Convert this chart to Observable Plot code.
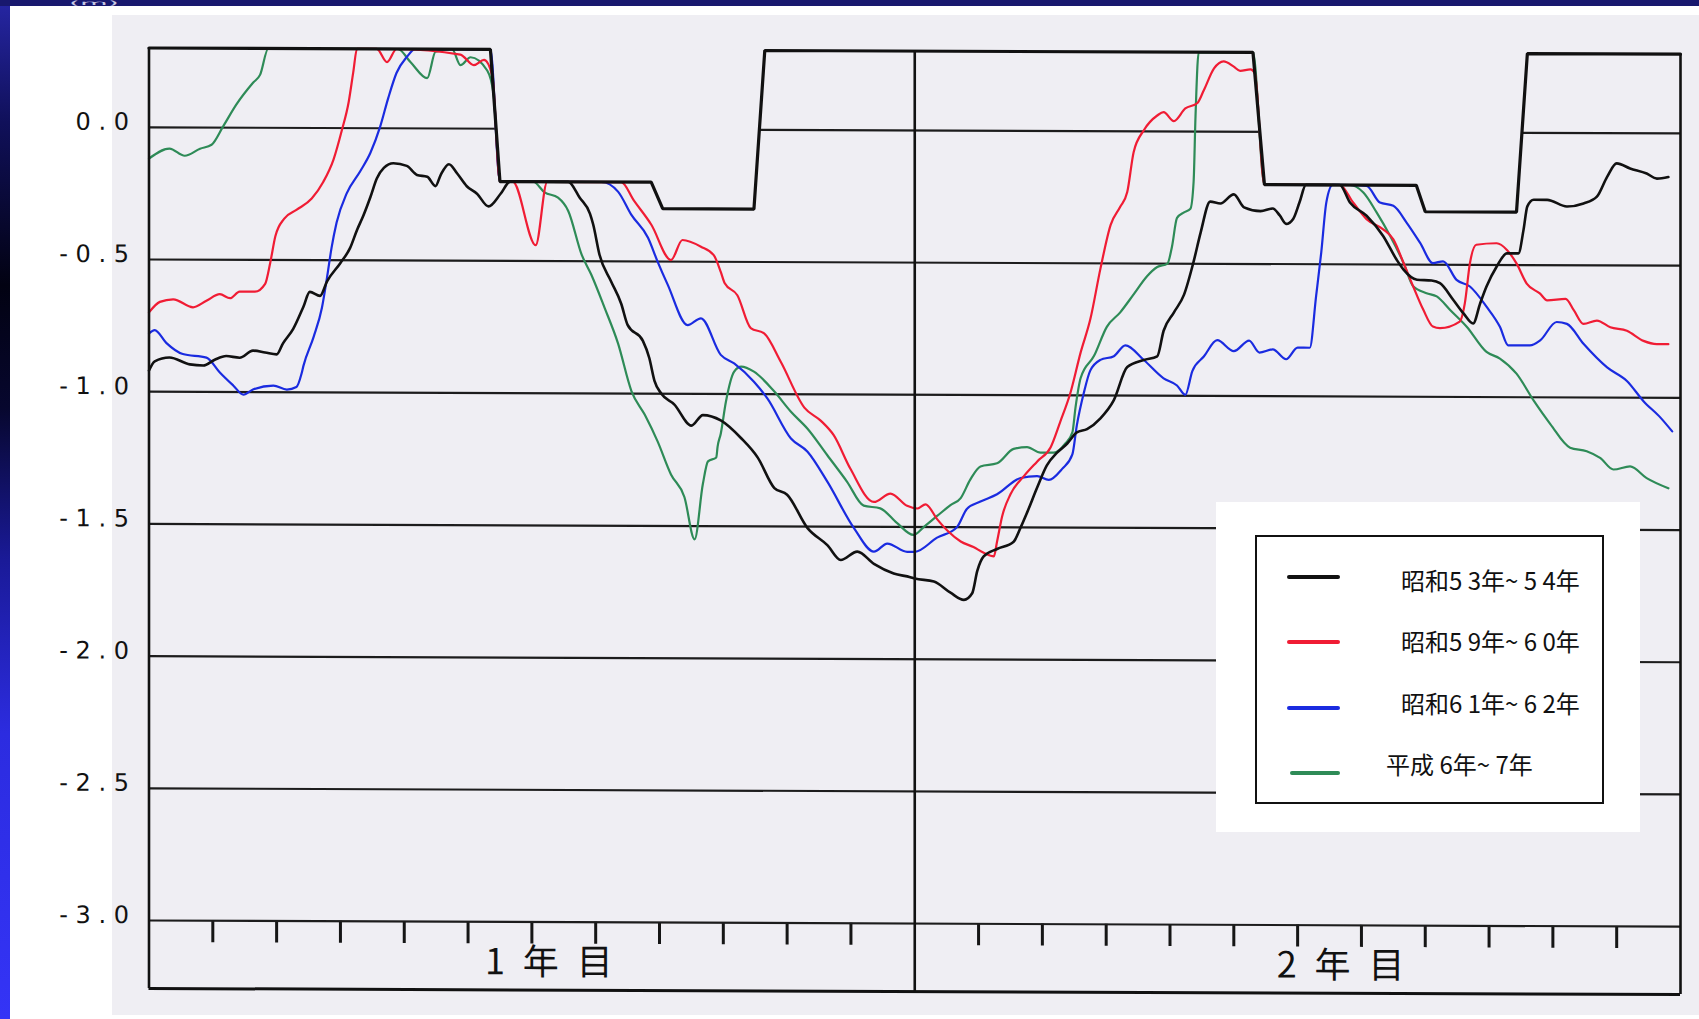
<!DOCTYPE html>
<html>
<head>
<meta charset="utf-8">
<script src="https://cdn.jsdelivr.net/npm/d3@7"></script>
<script src="https://cdn.jsdelivr.net/npm/@observablehq/plot@0.6"></script>
<style>
  html, body { margin: 0; padding: 0; background: #fff; width: 1699px; height: 1019px; overflow: hidden; }
  #stage { position: relative; width: 1699px; height: 1019px; background: #fff; overflow: hidden; }
  #leftbar { position: absolute; left: 0; top: 0; width: 10px; height: 1019px;
    background: linear-gradient(to bottom, #2626a4 0%, #10105a 12%, #020212 28%, #07072e 40%, #1a1a98 55%, #2c2ce0 72%, #3434f6 100%); }
  #topbar { position: absolute; left: 0; top: 0; width: 1699px; height: 6px; background: #18186e; }
  #paper { position: absolute; left: 112px; top: 15px; width: 1587px; height: 1000px; background: #efeef3; }
  #chart { position: absolute; left: 0; top: 0; }
  #chart svg { transform: skewY(0.23deg); transform-origin: 148px 0; }
  #chart svg g[aria-label^="x-axis"] line,
  #chart svg g[aria-label="x-axis tick"] path { stroke-width: 3px; stroke: #151515; }
  #unit { position: absolute; left: 0; top: 0; }
  #legendBg { position: absolute; left: 1216px; top: 502px; width: 424px; height: 330px; background: #fff; }
  #legendBox { position: absolute; left: 1255px; top: 535px; width: 349px; height: 269px; border: 2px solid #111; box-sizing: border-box; }
  .sw { position: absolute; height: 4px; border-radius: 2px; }
  .lt { position: absolute; font-family: "Noto Sans CJK JP", "Noto Sans", sans-serif; font-size: 24px; color: #111; line-height: 30px; white-space: pre; }
</style>
</head>
<body>
<div id="stage">
  <div id="paper"></div>
  <div id="chart"></div>
  <div id="leftbar"></div>
  <div id="topbar"></div>
  <svg id="unit" width="200" height="8"><text x="69" y="5" fill="#c8c8e4" font-family="DejaVu Sans" font-size="6" textLength="50" lengthAdjust="spacingAndGlyphs">(m)</text></svg>
  <div id="legendBg"></div>
  <div id="legendBox"></div>
</div>
<script>
// ---- data: [month (0-24), water level m] ----
const seriesNames = ["昭和5 3年~ 5 4年", "昭和5 9年~ 6 0年", "昭和6 1年~ 6 2年", "平成 6年~ 7年"];
const seriesColors = ["#111111", "#f01c34", "#1a2be0", "#2e8b57"];

const s5354 = [[0,-0.92],[0.09,-0.885],[0.32,-0.87],[0.64,-0.896],[0.85,-0.9],[1.03,-0.878],[1.21,-0.864],[1.42,-0.87],[1.63,-0.843],[1.82,-0.85],[2.0,-0.857],[2.1,-0.815],[2.26,-0.76],[2.42,-0.676],[2.52,-0.62],[2.68,-0.635],[2.79,-0.58],[3.0,-0.51],[3.15,-0.454],[3.26,-0.385],[3.36,-0.33],[3.47,-0.26],[3.57,-0.19],[3.68,-0.15],[3.83,-0.132],[4.04,-0.142],[4.2,-0.176],[4.36,-0.183],[4.49,-0.218],[4.57,-0.176],[4.7,-0.135],[4.83,-0.17],[4.98,-0.218],[5.14,-0.246],[5.32,-0.294],[5.51,-0.246],[5.66,-0.2],[6.57,-0.2],[6.75,-0.26],[6.91,-0.32],[6.96,-0.36],[7.06,-0.475],[7.24,-0.575],[7.4,-0.66],[7.5,-0.74],[7.74,-0.8],[7.84,-0.865],[7.92,-0.95],[8.03,-1.0],[8.23,-1.04],[8.5,-1.12],[8.68,-1.08],[8.96,-1.1],[9.28,-1.167],[9.54,-1.24],[9.8,-1.355],[10.0,-1.38],[10.32,-1.506],[10.63,-1.57],[10.84,-1.626],[11.1,-1.594],[11.36,-1.64],[11.67,-1.676],[11.93,-1.69],[12.0,-1.695],[12.3,-1.706],[12.56,-1.748],[12.77,-1.775],[12.9,-1.75],[12.98,-1.665],[13.08,-1.61],[13.29,-1.582],[13.55,-1.554],[13.66,-1.5],[13.76,-1.444],[13.92,-1.348],[14.07,-1.265],[14.23,-1.217],[14.39,-1.182],[14.54,-1.14],[14.7,-1.127],[14.91,-1.086],[15.12,-1.017],[15.33,-0.892],[15.59,-0.865],[15.8,-0.851],[15.9,-0.754],[16.06,-0.685],[16.22,-0.617],[16.37,-0.492],[16.48,-0.382],[16.63,-0.265],[16.79,-0.272],[17.0,-0.237],[17.16,-0.286],[17.42,-0.3],[17.61,-0.29],[17.72,-0.316],[17.82,-0.348],[17.93,-0.329],[18.03,-0.266],[18.13,-0.2],[18.66,-0.2],[18.82,-0.266],[19.08,-0.316],[19.34,-0.392],[19.55,-0.481],[19.66,-0.519],[19.87,-0.557],[20.1,-0.56],[20.23,-0.57],[20.44,-0.633],[20.6,-0.684],[20.75,-0.722],[20.86,-0.646],[20.96,-0.582],[21.12,-0.506],[21.28,-0.456],[21.46,-0.456],[21.54,-0.367],[21.6,-0.278],[21.7,-0.253],[21.91,-0.253],[22.22,-0.278],[22.48,-0.266],[22.69,-0.24],[22.85,-0.165],[23.0,-0.114],[23.21,-0.133],[23.47,-0.152],[23.63,-0.171],[23.81,-0.165]];

const s5960 = [[0,-0.7],[0.17,-0.66],[0.38,-0.65],[0.69,-0.68],[0.9,-0.655],[1.11,-0.63],[1.27,-0.645],[1.42,-0.62],[1.66,-0.62],[1.82,-0.59],[1.9,-0.51],[1.98,-0.41],[2.12,-0.343],[2.31,-0.31],[2.55,-0.267],[2.73,-0.204],[2.89,-0.12],[3.02,-0.01],[3.13,0.1],[3.2,0.21],[3.26,0.3],[3.57,0.3],[3.73,0.25],[3.88,0.3],[4.88,0.28],[5.09,0.24],[5.25,0.26],[5.38,0.2],[5.5,-0.2],[5.7,-0.2],[6.06,-0.44],[6.24,-0.2],[7.4,-0.2],[7.6,-0.27],[7.87,-0.36],[8.18,-0.494],[8.36,-0.418],[8.65,-0.443],[8.85,-0.475],[8.96,-0.538],[9.02,-0.58],[9.22,-0.626],[9.43,-0.75],[9.64,-0.77],[9.9,-0.877],[10.27,-1.05],[10.53,-1.1],[10.73,-1.154],[10.99,-1.28],[11.36,-1.406],[11.62,-1.374],[11.88,-1.42],[12.04,-1.43],[12.17,-1.414],[12.35,-1.47],[12.51,-1.513],[12.72,-1.554],[12.92,-1.575],[13.08,-1.596],[13.24,-1.61],[13.29,-1.554],[13.37,-1.458],[13.5,-1.375],[13.71,-1.306],[13.92,-1.25],[14.13,-1.196],[14.28,-1.1],[14.44,-0.99],[14.6,-0.837],[14.75,-0.713],[14.91,-0.52],[15.07,-0.354],[15.22,-0.286],[15.33,-0.23],[15.43,-0.079],[15.59,0.004],[15.8,0.06],[15.9,0.073],[16.06,0.039],[16.24,0.087],[16.43,0.108],[16.53,0.156],[16.69,0.239],[16.84,0.266],[17.0,0.246],[17.1,0.23],[17.26,0.236],[17.33,0.22],[17.48,-0.2],[18.66,-0.2],[18.87,-0.266],[19.08,-0.329],[19.34,-0.367],[19.5,-0.405],[19.66,-0.494],[19.81,-0.582],[19.97,-0.671],[20.12,-0.734],[20.23,-0.74],[20.54,-0.715],[20.62,-0.646],[20.7,-0.494],[20.8,-0.424],[21.12,-0.418],[21.28,-0.443],[21.43,-0.494],[21.59,-0.57],[21.8,-0.608],[21.91,-0.633],[22.2,-0.627],[22.33,-0.671],[22.48,-0.722],[22.69,-0.709],[22.9,-0.734],[23.16,-0.747],[23.42,-0.785],[23.63,-0.797],[23.81,-0.797]];

const s6162 = [[0,-0.78],[0.09,-0.767],[0.27,-0.815],[0.53,-0.857],[0.9,-0.87],[1.11,-0.926],[1.32,-0.975],[1.48,-1.01],[1.63,-0.99],[1.95,-0.975],[2.16,-0.99],[2.31,-0.98],[2.39,-0.93],[2.42,-0.9],[2.58,-0.79],[2.71,-0.68],[2.79,-0.565],[2.86,-0.454],[2.94,-0.357],[3.1,-0.246],[3.31,-0.163],[3.47,-0.093],[3.62,0.004],[3.75,0.115],[3.88,0.21],[4.04,0.27],[4.17,0.3],[5.35,0.3],[5.5,-0.2],[7.09,-0.2],[7.35,-0.236],[7.56,-0.324],[7.82,-0.41],[7.97,-0.5],[8.13,-0.588],[8.44,-0.74],[8.65,-0.714],[8.96,-0.852],[9.17,-0.884],[9.48,-0.953],[9.69,-1.016],[10.06,-1.167],[10.32,-1.217],[10.63,-1.33],[11.05,-1.506],[11.36,-1.594],[11.57,-1.563],[11.88,-1.594],[12.0,-1.594],[12.35,-1.54],[12.66,-1.5],[12.82,-1.43],[13.03,-1.403],[13.29,-1.375],[13.66,-1.313],[13.92,-1.306],[14.1,-1.32],[14.31,-1.278],[14.47,-1.223],[14.54,-1.113],[14.65,-0.99],[14.75,-0.906],[14.91,-0.865],[15.12,-0.851],[15.3,-0.81],[15.59,-0.865],[15.9,-0.934],[16.11,-0.961],[16.24,-0.996],[16.35,-0.906],[16.53,-0.851],[16.74,-0.789],[17.0,-0.83],[17.24,-0.79],[17.4,-0.835],[17.61,-0.823],[17.82,-0.86],[18.0,-0.816],[18.19,-0.816],[18.29,-0.62],[18.37,-0.456],[18.45,-0.266],[18.55,-0.2],[18.82,-0.2],[19.08,-0.203],[19.29,-0.266],[19.5,-0.278],[19.71,-0.342],[19.92,-0.418],[20.12,-0.494],[20.28,-0.487],[20.49,-0.557],[20.7,-0.582],[20.96,-0.658],[21.17,-0.734],[21.3,-0.804],[21.64,-0.804],[21.8,-0.785],[22.06,-0.715],[22.22,-0.722],[22.48,-0.797],[22.85,-0.886],[23.16,-0.937],[23.42,-1.013],[23.69,-1.076],[23.87,-1.127]];

const h0607 = [[0,-0.118],[0.32,-0.08],[0.56,-0.107],[0.8,-0.08],[0.98,-0.065],[1.16,0.004],[1.37,0.088],[1.63,0.17],[1.74,0.2],[1.87,0.3],[3.9,0.3],[4.1,0.25],[4.36,0.19],[4.49,0.29],[4.75,0.3],[4.88,0.24],[5.04,0.27],[5.3,0.22],[5.4,0.13],[5.5,-0.2],[6.02,-0.2],[6.2,-0.24],[6.41,-0.26],[6.57,-0.31],[6.78,-0.475],[6.93,-0.55],[7.14,-0.676],[7.35,-0.81],[7.56,-0.99],[7.77,-1.08],[7.97,-1.18],[8.18,-1.305],[8.39,-1.39],[8.55,-1.55],[8.68,-1.34],[8.76,-1.255],[8.89,-1.24],[8.91,-1.2],[8.96,-1.15],[9.04,-1.03],[9.17,-0.915],[9.28,-0.896],[9.48,-0.915],[9.8,-0.99],[10.06,-1.066],[10.32,-1.13],[10.63,-1.23],[10.94,-1.33],[11.2,-1.42],[11.46,-1.43],[11.72,-1.485],[11.98,-1.53],[12.14,-1.5],[12.35,-1.458],[12.56,-1.417],[12.72,-1.39],[12.87,-1.32],[13.03,-1.27],[13.29,-1.258],[13.55,-1.203],[13.76,-1.196],[13.97,-1.217],[14.18,-1.217],[14.36,-1.182],[14.47,-1.14],[14.52,-1.044],[14.6,-0.934],[14.81,-0.85],[15.01,-0.74],[15.22,-0.685],[15.43,-0.617],[15.64,-0.548],[15.8,-0.513],[15.96,-0.5],[16.03,-0.437],[16.11,-0.327],[16.22,-0.306],[16.32,-0.292],[16.37,-0.19],[16.4,0.059],[16.45,0.3],[17.3,0.3],[17.48,-0.2],[18.82,-0.2],[19.03,-0.228],[19.24,-0.304],[19.45,-0.392],[19.66,-0.494],[19.81,-0.582],[20.02,-0.608],[20.18,-0.62],[20.39,-0.671],[20.65,-0.734],[20.96,-0.829],[21.17,-0.854],[21.43,-0.911],[21.7,-1.013],[21.96,-1.101],[22.27,-1.19],[22.53,-1.203],[22.74,-1.228],[22.95,-1.272],[23.21,-1.26],[23.47,-1.304],[23.81,-1.342]];

// rule (upper limit) level, stepped
const ruleMonths = [0, 5.35, 5.5, 7.87, 8.05, 9.48, 9.65, 17.3, 17.48, 19.86, 20.0, 21.43, 21.6, 24];
const ruleLevels = [0.3, 0.3, -0.2, -0.2, -0.3, -0.3, 0.3, 0.3, -0.2, -0.2, -0.3, -0.3, 0.3, 0.3];

const yTicks = [0, -0.5, -1.0, -1.5, -2.0, -2.5, -3.0];
const monthTicks = [1,2,3,4,5,6,7,8,9,10,11,13,14,15,16,17,18,19,20,21,22,23];
const yearLabels = ["1 年 目", "2 年 目"];

// ---- layout constants ----
const paper = "#efeef3";
const topLevel = 0.3;
const frameBottom = -3.257;
const yearLabelY = -3.155;

const rulePts = ruleMonths.map((m, i) => ({m, v: ruleLevels[i]}));
const seriesAll = [s5354, s5960, s6162, h0607];
const widths = [2.6, 2.2, 2.2, 2.2];
const fmtY = d => ((d < 0 ? "-" : "") + Math.abs(d).toFixed(1)).split("").join(" ");

const seriesMarks = [3, 2, 1, 0].map(i =>
  Plot.line(seriesAll[i], {x: d => d[0], y: d => d[1], curve: "monotone-x", stroke: seriesColors[i], strokeWidth: widths[i], strokeLinejoin: "round", strokeLinecap: "round"})
);

const chart = Plot.plot({
  width: 1699,
  height: 1019,
  marginLeft: 148.5,
  marginRight: 19,
  marginTop: 47.5,
  marginBottom: 99,
  style: {background: "transparent", fontFamily: "DejaVu Sans", fontSize: "24px", color: "#151515", overflow: "visible"},
  x: {domain: [0, 24], ticks: monthTicks, tickSize: 22, tickFormat: () => "", label: null},
  y: {domain: [-3.0, topLevel], axis: null},
  marks: [
    Plot.ruleY(yTicks, {x1: 0, x2: 24, stroke: "#1c1c1c", strokeWidth: 2.2}),
    Plot.areaY(rulePts, {x: "m", y1: "v", y2: topLevel, fill: paper}),
    ...seriesMarks,
    Plot.line(rulePts, {x: "m", y: "v", stroke: "#111", strokeWidth: 3.2, strokeLinejoin: "miter"}),
    Plot.ruleX([0, 12, 24], {y1: topLevel, y2: frameBottom, stroke: "#111", strokeWidth: 2.6}),
    Plot.ruleY([frameBottom], {x1: 0, x2: 24, stroke: "#111", strokeWidth: 3}),
    Plot.text(yTicks, {x: 0, y: d => d, text: fmtY, textAnchor: "end", dx: -20, dy: -5, fontSize: 24, fontFamily: "DejaVu Sans", fill: "#111"}),
    Plot.text([yearLabels[0]], {x: 6, y: yearLabelY, text: d => d.replace(/ /g, "\u2002"), dx: 17, fontSize: 36, fontFamily: "Noto Sans CJK JP", fill: "#111"}),
    Plot.text([yearLabels[1]], {x: 18, y: yearLabelY, text: d => d.replace(/ /g, "\u2002"), dx: 43, fontSize: 36, fontFamily: "Noto Sans CJK JP", fill: "#111"})
  ]
});
document.getElementById("chart").appendChild(chart);

// ---- legend (HTML overlay, built from series arrays) ----
const stage = document.getElementById("stage");
seriesNames.forEach((name, i) => {
  const sw = document.createElement("div");
  sw.className = "sw";
  sw.style.left = (i === 3 ? 1290 : 1287) + "px";
  sw.style.width = (i === 3 ? 50 : 53) + "px";
  sw.style.top = (575 + i * 65.3) + "px";
  sw.style.background = seriesColors[i];
  stage.appendChild(sw);
  const t = document.createElement("div");
  t.className = "lt";
  t.textContent = name;
  t.style.left = (i === 3 ? 1386 : 1401) + "px";
  t.style.top = (565 + i * 61.3) + "px";
  stage.appendChild(t);
});
</script>
</body>
</html>
